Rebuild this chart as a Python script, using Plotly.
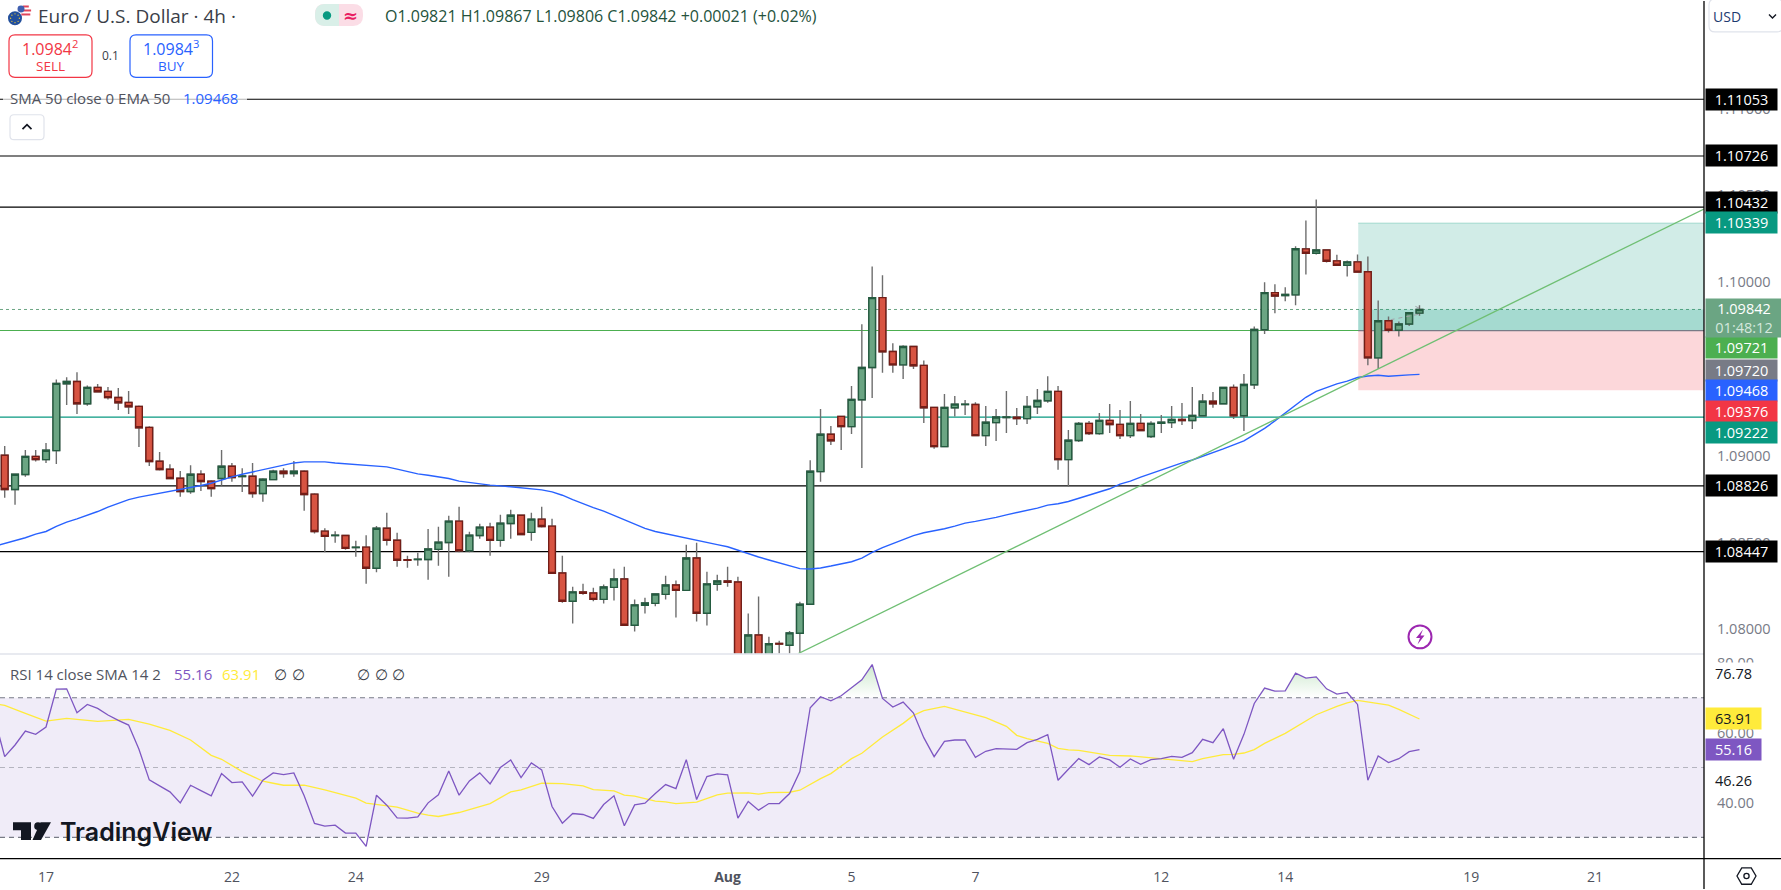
import math
import numpy as np
import plotly.graph_objects as go
from plotly.subplots import make_subplots

W, H = 1781, 890
FONT = "Open Sans"

# 4h candles, one row per 10 bars
opens = [
    1.09002, 1.08805, 1.08891, 1.08996, 1.08977, 1.09029, 1.09414, 1.09427, 1.09299, 1.09393,
    1.09370, 1.09335, 1.09307, 1.09284, 1.09163, 1.08968, 1.08922, 1.08870, 1.08793, 1.08893,
    1.08853, 1.08868, 1.08939, 1.08879, 1.08881, 1.08782, 1.08862, 1.08910, 1.08897, 1.08910,
    1.08778, 1.08565, 1.08540, 1.08540, 1.08471, 1.08473, 1.08351, 1.08582, 1.08513, 1.08400,
    1.08402, 1.08402, 1.08460, 1.08500, 1.08623, 1.08452, 1.08540, 1.08588, 1.08512, 1.08609,
    1.08657, 1.08558, 1.08634, 1.08594, 1.08324, 1.08161, 1.08215, 1.08209, 1.08172, 1.08241,
    1.08289, 1.08023, 1.08138, 1.08149, 1.08201, 1.08255, 1.08224, 1.08410, 1.08092, 1.08259,
    1.08278, 1.08272, 1.07760, 1.07967, 1.07770, 1.07918, 1.07908, 1.07977, 1.08144, 1.08908,
    1.09123, 1.09226, 1.09167, 1.09322, 1.09508, 1.09910, 1.09600, 1.09523, 1.09629, 1.09520,
    1.09278, 1.09052, 1.09276, 1.09294, 1.09295, 1.09115, 1.09190, 1.09219, 1.09221, 1.09213,
    1.09282, 1.09316, 1.09370, 1.08977, 1.09087, 1.09186, 1.09127, 1.09203, 1.09180, 1.09115,
    1.09186, 1.09110, 1.09186, 1.09190, 1.09209, 1.09202, 1.09230, 1.09313, 1.09299, 1.09393,
    1.09230, 1.09408, 1.09725, 1.09939, 1.09922, 1.09926, 1.10191, 1.10166, 1.10185, 1.10122,
    1.10097, 1.10116, 1.10059, 1.09563, 1.09777, 1.09722, 1.09758, 1.09821,
]
highs = [
    1.09056, 1.08893, 1.09033, 1.09033, 1.09073, 1.09439, 1.09452, 1.09481, 1.09404, 1.09412,
    1.09395, 1.09389, 1.09372, 1.09289, 1.09169, 1.09021, 1.08950, 1.08912, 1.08945, 1.08916,
    1.08858, 1.09033, 1.08958, 1.08927, 1.08958, 1.08870, 1.08918, 1.08927, 1.08969, 1.08916,
    1.08784, 1.08582, 1.08565, 1.08542, 1.08510, 1.08542, 1.08594, 1.08671, 1.08556, 1.08423,
    1.08441, 1.08577, 1.08590, 1.08653, 1.08705, 1.08561, 1.08607, 1.08613, 1.08659, 1.08688,
    1.08657, 1.08671, 1.08705, 1.08636, 1.08423, 1.08245, 1.08262, 1.08239, 1.08257, 1.08349,
    1.08360, 1.08171, 1.08182, 1.08203, 1.08308, 1.08280, 1.08487, 1.08498, 1.08331, 1.08314,
    1.08360, 1.08303, 1.08090, 1.08188, 1.07956, 1.07933, 1.07990, 1.08159, 1.08973, 1.09268,
    1.09171, 1.09226, 1.09401, 1.09757, 1.10090, 1.10039, 1.09648, 1.09636, 1.09629, 1.09548,
    1.09278, 1.09355, 1.09343, 1.09320, 1.09307, 1.09286, 1.09269, 1.09372, 1.09274, 1.09343,
    1.09384, 1.09458, 1.09401, 1.09148, 1.09194, 1.09200, 1.09246, 1.09297, 1.09263, 1.09315,
    1.09240, 1.09198, 1.09234, 1.09286, 1.09303, 1.09395, 1.09355, 1.09366, 1.09393, 1.09410,
    1.09470, 1.09744, 1.09999, 1.09987, 1.09970, 1.10206, 1.10354, 1.10475, 1.10185, 1.10157,
    1.10124, 1.10159, 1.10147, 1.09894, 1.09802, 1.09772, 1.09825, 1.09867,
]
lows = [
    1.08757, 1.08717, 1.08879, 1.08966, 1.08958, 1.08952, 1.09291, 1.09240, 1.09288, 1.09368,
    1.09324, 1.09263, 1.09240, 1.09050, 1.08941, 1.08914, 1.08868, 1.08763, 1.08780, 1.08797,
    1.08763, 1.08826, 1.08849, 1.08791, 1.08757, 1.08734, 1.08862, 1.08872, 1.08878, 1.08682,
    1.08552, 1.08443, 1.08498, 1.08458, 1.08418, 1.08262, 1.08328, 1.08483, 1.08360, 1.08354,
    1.08366, 1.08285, 1.08366, 1.08303, 1.08443, 1.08443, 1.08521, 1.08423, 1.08475, 1.08521,
    1.08546, 1.08510, 1.08586, 1.08322, 1.08153, 1.08033, 1.08199, 1.08161, 1.08148, 1.08165,
    1.08023, 1.07987, 1.08090, 1.08132, 1.08171, 1.08067, 1.08224, 1.08044, 1.08021, 1.08222,
    1.08245, 1.07700, 1.07700, 1.07720, 1.07730, 1.07760, 1.07800, 1.07864, 1.08144, 1.08849,
    1.09061, 1.09033, 1.09125, 1.08929, 1.09332, 1.09477, 1.09477, 1.09441, 1.09499, 1.09188,
    1.09039, 1.09052, 1.09226, 1.09234, 1.09115, 1.09056, 1.09085, 1.09131, 1.09177, 1.09182,
    1.09240, 1.09305, 1.08918, 1.08822, 1.09079, 1.09119, 1.09121, 1.09131, 1.09096, 1.09102,
    1.09144, 1.09102, 1.09131, 1.09159, 1.09177, 1.09154, 1.09230, 1.09276, 1.09299, 1.09211,
    1.09142, 1.09384, 1.09700, 1.09820, 1.09889, 1.09866, 1.10044, 1.10159, 1.10113, 1.10097,
    1.10032, 1.10057, 1.09521, 1.09501, 1.09710, 1.09687, 1.09747, 1.09806,
]
closes = [
    1.08805, 1.08893, 1.08996, 1.08977, 1.09031, 1.09416, 1.09427, 1.09299, 1.09393, 1.09368,
    1.09334, 1.09305, 1.09282, 1.09161, 1.08966, 1.08920, 1.08868, 1.08793, 1.08893, 1.08851,
    1.08810, 1.08939, 1.08874, 1.08883, 1.08782, 1.08864, 1.08910, 1.08897, 1.08910, 1.08776,
    1.08563, 1.08535, 1.08542, 1.08466, 1.08473, 1.08351, 1.08582, 1.08512, 1.08397, 1.08397,
    1.08404, 1.08462, 1.08502, 1.08623, 1.08452, 1.08542, 1.08588, 1.08512, 1.08611, 1.08657,
    1.08546, 1.08634, 1.08592, 1.08322, 1.08161, 1.08215, 1.08207, 1.08172, 1.08243, 1.08289,
    1.08023, 1.08140, 1.08151, 1.08203, 1.08255, 1.08224, 1.08410, 1.08092, 1.08261, 1.08278,
    1.08270, 1.07750, 1.07967, 1.07770, 1.07916, 1.07914, 1.07979, 1.08144, 1.08910, 1.09123,
    1.09086, 1.09167, 1.09324, 1.09508, 1.09910, 1.09598, 1.09523, 1.09629, 1.09518, 1.09276,
    1.09052, 1.09278, 1.09297, 1.09297, 1.09115, 1.09192, 1.09223, 1.09223, 1.09213, 1.09284,
    1.09318, 1.09370, 1.08977, 1.09089, 1.09186, 1.09127, 1.09203, 1.09179, 1.09115, 1.09186,
    1.09144, 1.09186, 1.09192, 1.09209, 1.09202, 1.09232, 1.09313, 1.09299, 1.09393, 1.09230,
    1.09410, 1.09727, 1.09939, 1.09920, 1.09928, 1.10192, 1.10166, 1.10185, 1.10120, 1.10097,
    1.10116, 1.10057, 1.09563, 1.09777, 1.09722, 1.09758, 1.09823, 1.09842,
]

# EMA 50, starts one bar left of the pane
ema_vals = [
    1.08477, 1.08494, 1.08508, 1.08527, 1.08548, 1.08563, 1.08592, 1.08617, 1.08636, 1.08655, 1.08678,
    1.08703, 1.08726, 1.08747, 1.08761, 1.08772, 1.08784, 1.08793, 1.08803, 1.08814, 1.08828,
    1.08841, 1.08860, 1.08878, 1.08893, 1.08906, 1.08918, 1.08929, 1.08943, 1.08958, 1.08964,
    1.08966, 1.08964, 1.08958, 1.08954, 1.08950, 1.08943, 1.08941, 1.08935, 1.08922, 1.08908,
    1.08895, 1.08887, 1.08879, 1.08868, 1.08853, 1.08845, 1.08837, 1.08830, 1.08826, 1.08820,
    1.08814, 1.08809, 1.08803, 1.08791, 1.08772, 1.08747, 1.08722, 1.08701, 1.08680, 1.08655,
    1.08627, 1.08604, 1.08581, 1.08563, 1.08550, 1.08535, 1.08523, 1.08510, 1.08498, 1.08487,
    1.08475, 1.08454, 1.08433, 1.08416, 1.08399, 1.08383, 1.08366, 1.08349, 1.08347, 1.08353,
    1.08364, 1.08376, 1.08389, 1.08410, 1.08443, 1.08470, 1.08493, 1.08516, 1.08539, 1.08556,
    1.08567, 1.08579, 1.08594, 1.08611, 1.08621, 1.08631, 1.08644, 1.08659, 1.08671, 1.08682,
    1.08698, 1.08715, 1.08723, 1.08736, 1.08755, 1.08774, 1.08790, 1.08809, 1.08836, 1.08853,
    1.08876, 1.08897, 1.08918, 1.08937, 1.08958, 1.08975, 1.08995, 1.09016, 1.09039, 1.09062,
    1.09085, 1.09121, 1.09157, 1.09200, 1.09244, 1.09288, 1.09336, 1.09370, 1.09393, 1.09413,
    1.09429, 1.09450, 1.09459, 1.09463, 1.09457, 1.09463, 1.09465, 1.09468,
]

# RSI 14, also one bar earlier
rsi_vals = [
    64.30, 53.13, 56.47, 60.47, 59.51, 61.61, 72.47, 72.56, 65.70, 68.09, 66.94,
    65.04, 63.51, 62.18, 55.23, 46.47, 44.75, 43.04, 39.90, 44.94, 43.42,
    41.90, 48.28, 45.70, 45.90, 41.80, 46.37, 48.47, 47.99, 48.47, 41.90,
    33.99, 33.23, 33.51, 31.23, 31.23, 27.42, 42.09, 39.23, 35.61, 35.51,
    35.90, 39.90, 42.18, 49.04, 42.09, 46.18, 48.47, 45.32, 50.00, 52.18,
    47.13, 51.32, 49.32, 38.85, 34.09, 36.85, 36.56, 35.42, 39.42, 41.90,
    33.32, 39.32, 39.80, 42.56, 45.13, 43.99, 52.28, 40.85, 47.42, 48.18,
    47.90, 35.51, 40.28, 37.80, 39.70, 39.70, 42.56, 48.85, 67.13, 70.28,
    69.13, 70.56, 72.94, 75.13, 79.51, 69.80, 67.32, 68.75, 65.61, 58.56,
    53.13, 57.51, 57.89, 57.89, 52.94, 54.66, 55.42, 55.42, 55.23, 57.13,
    58.09, 59.42, 46.37, 49.51, 52.56, 50.85, 53.04, 52.18, 50.09, 52.47,
    50.94, 52.28, 52.56, 53.23, 52.94, 54.28, 58.08, 57.13, 61.13, 52.36,
    59.51, 68.36, 72.75, 71.89, 71.98, 77.03, 75.60, 75.98, 72.55, 71.03,
    71.51, 68.08, 46.36, 53.32, 51.41, 52.55, 54.55, 55.16,
]

rsi_ma_idx = [
    -1, 0, 2, 4, 6, 9, 12, 14, 16, 18, 20, 21, 23, 25, 26, 27, 29, 31, 34, 35, 38, 40, 41, 42, 44, 46, 47,
    49, 50, 52, 54, 56, 57, 59, 60, 61, 63, 64, 65, 67, 69, 70, 72, 73, 74, 76, 77, 79, 80, 82, 83, 85,
    87, 88, 89, 91, 93, 95, 97, 98, 99, 101, 102, 103, 104, 105, 107, 109, 110, 112, 113, 114, 115, 116,
    117, 118, 119, 120, 121, 122, 124, 126, 127, 129, 130, 131, 133, 134, 135, 137,
]
rsi_ma_vals = [
    68.28, 67.80, 65.51, 63.32, 64.09, 63.23, 63.80, 62.47, 60.66, 57.90, 53.51, 52.37, 48.85, 46.09, 45.51,
    44.94, 44.94, 43.61, 41.23, 39.80, 38.66, 36.94, 36.37, 35.99, 37.13, 38.85, 39.70,
    43.04, 43.61, 45.51, 45.42, 44.75, 43.70, 43.32, 42.09, 41.80, 40.37, 40.18, 39.70, 40.09, 42.18, 42.66,
    42.75, 42.37, 42.85, 42.94, 43.51, 46.85, 48.28, 52.56, 54.09, 58.75,
    62.66, 64.94, 66.28, 67.51, 65.90, 64.28, 61.80, 59.23, 58.28, 56.94, 55.51, 55.04, 54.94, 54.47, 53.51,
    53.32, 53.04, 52.66, 52.28, 51.90, 51.70, 52.55,
    53.03, 53.70, 53.79, 54.17, 55.13, 56.94, 59.79, 63.41, 65.13, 67.51, 68.55, 69.22, 68.27, 67.89, 66.65, 63.91,
]

black_levels = [1.11053, 1.10726, 1.10432, 1.08826, 1.08447]
green_level = 1.09721
teal_level = 1.09222
last_price = 1.09842
pos_start = 131.07
pos_tp, pos_entry, pos_sl = 1.10339, 1.09720, 1.09376
trend_idx = [76.85, 164.55]
trend_vals = [1.07860, 1.10421]
# faint dashed drawings around the last bars
dash_a_idx = [134.2, 136.9]
dash_a_vals = [1.09783, 1.09814]
dash_b_idx = [136.6, 137.1]
dash_b_vals = [1.09860, 1.09846]

price_ticks = [1.08, 1.085, 1.09, 1.095, 1.10, 1.105, 1.11]
rsi_ticks = [40, 60, 80]
date_idx = [4, 22, 34, 52, 70, 82, 94, 112, 124, 142, 154]
date_labels = ["17", "22", "24", "29", "<b>Aug</b>", "5", "7", "12", "14", "19", "21"]

# label y position (px) on the price scale, pushed apart as in the chart
price_labels = [
    ("1.11053", 98.5, "#000000", "#ffffff"),
    ("1.10726", 155, "#000000", "#ffffff"),
    ("1.10432", 201.7, "#000000", "#ffffff"),
    ("1.10339", 222.3, "#089981", "#ffffff"),
    ("1.09721", 347.7, "#4caf50", "#ffffff"),
    ("1.09720", 370, "#787b86", "#ffffff"),
    ("1.09468", 390.7, "#2962ff", "#ffffff"),
    ("1.09376", 411.7, "#f23645", "#ffffff"),
    ("1.09222", 432.7, "#089981", "#ffffff"),
    ("1.08826", 486, "#000000", "#ffffff"),
    ("1.08447", 552, "#000000", "#ffffff"),
    ("76.78", 674.5, "#ffffff", "#131722"),
    ("63.91", 719.6, "#ffeb3b", "#131722"),
    ("55.16", 750.5, "#7e57c2", "#ffffff"),
    ("46.26", 781.5, "#ffffff", "#131722"),
]

idx = list(range(len(opens)))
body_hi = [max(o, c) for o, c in zip(opens, closes)]
body_lo = [min(o, c) for o, c in zip(opens, closes)]
ema_idx = list(range(-1, len(opens)))
rsi_idx = list(range(-1, len(opens)))


def fx(x):
    return x / W


def fy(y):
    return 1 - y / H


fig = make_subplots(rows=2, cols=1, shared_xaxes=True, vertical_spacing=0.001)

fig.add_trace(go.Scatter(x=dash_a_idx, y=dash_a_vals, mode="lines", line=dict(color="#a0a0a6", width=1, dash="4px,4px"),
                         showlegend=False), row=1, col=1)
fig.add_trace(go.Scatter(x=dash_b_idx, y=dash_b_vals, mode="lines", line=dict(color="#a0a0a6", width=1, dash="4px,2px"),
                         showlegend=False), row=1, col=1)

# wicks first, bodies on top, so wick and border can have different colours
fig.add_trace(go.Candlestick(x=idx, open=opens, high=highs, low=lows, close=closes, whiskerwidth=0,
                             increasing=dict(line=dict(color="#6e6e6e", width=1.4), fillcolor="#6e6e6e"),
                             decreasing=dict(line=dict(color="#6e6e6e", width=1.4), fillcolor="#6e6e6e"),
                             showlegend=False), row=1, col=1)
fig.add_trace(go.Candlestick(x=idx, open=opens, high=body_hi, low=body_lo, close=closes, whiskerwidth=0,
                             increasing=dict(line=dict(color="#245b40", width=1.4), fillcolor="#6ba583"),
                             decreasing=dict(line=dict(color="#731d17", width=1.4), fillcolor="#d75442"),
                             showlegend=False), row=1, col=1)
fig.add_trace(go.Scatter(x=ema_idx, y=ema_vals, mode="lines", line=dict(color="#2962ff", width=1.4),
                         showlegend=False), row=1, col=1)
fig.add_trace(go.Scatter(x=trend_idx, y=trend_vals, mode="lines", line=dict(color="#6fbf73", width=1.3),
                         showlegend=False), row=1, col=1)

# overbought shading
fig.add_trace(go.Scatter(x=rsi_idx, y=[70] * len(rsi_idx), mode="lines", line=dict(width=0),
                         showlegend=False), row=2, col=1)
fig.add_trace(go.Scatter(x=rsi_idx, y=np.maximum(rsi_vals, 70), mode="lines", line=dict(width=0), fill="tonexty",
                         fillgradient=dict(type="vertical",
                                           colorscale=[[0, "rgba(76,175,80,0)"], [1, "rgba(76,175,80,0.28)"]]),
                         showlegend=False), row=2, col=1)
fig.add_trace(go.Scatter(x=rsi_ma_idx, y=rsi_ma_vals, mode="lines", line=dict(color="#ffeb3b", width=1.3),
                         showlegend=False), row=2, col=1)
fig.add_trace(go.Scatter(x=rsi_idx, y=rsi_vals, mode="lines", line=dict(color="#7e57c2", width=1.3),
                         showlegend=False), row=2, col=1)

shapes = []


def hline(level, color, width=1.2, dash="solid"):
    shapes.append(dict(type="line", xref="x domain", yref="y", x0=0, x1=1, y0=level, y1=level,
                       line=dict(color=color, width=width, dash=dash), layer="below"))


def rect_y(y0, y1, fill):
    shapes.append(dict(type="rect", xref="x", yref="y", x0=pos_start, x1=164.55, y0=y0, y1=y1,
                       fillcolor=fill, line=dict(width=0), layer="below"))


rect_y(pos_entry, pos_tp, "rgba(8,153,129,0.19)")
rect_y(pos_sl, pos_entry, "rgba(242,54,69,0.2)")
rect_y(pos_entry, last_price, "rgba(8,153,129,0.22)")
shapes.append(dict(type="line", xref="x", yref="y", x0=pos_start, x1=164.55, y0=pos_tp, y1=pos_tp,
                   line=dict(color="#a0d8cc", width=1), layer="below"))
for lvl in black_levels:
    hline(lvl, "#000000")
hline(green_level, "#4caf50", 1.2)
hline(teal_level, "#089981", 1.2)
hline(last_price, "#6ba583", 1, "dot")
shapes.append(dict(type="line", xref="x", yref="y", x0=pos_start, x1=164.55, y0=pos_entry, y1=pos_entry,
                   line=dict(color="#787b86", width=1.2), layer="below"))

# rsi band
shapes.append(dict(type="rect", xref="x2 domain", yref="y2", x0=0, x1=1, y0=30, y1=70,
                   fillcolor="rgba(126,87,194,0.115)", line=dict(width=0), layer="below"))
for lvl, col in [(70, "#787b86"), (50, "rgba(120,123,134,0.5)"), (30, "#787b86")]:
    shapes.append(dict(type="line", xref="x2 domain", yref="y2", x0=0, x1=1, y0=lvl, y1=lvl,
                       line=dict(color=col, width=1.1, dash="5px,4px"), layer="below"))


def box(x0, y0, x1, y1, fill=None, line=None, lw=1, opacity=None, r=0):
    s = dict(type="path" if r else "rect", xref="paper", yref="paper", fillcolor=fill or "rgba(0,0,0,0)",
             line=dict(color=line or "rgba(0,0,0,0)", width=lw if line else 0))
    if r:
        s["path"] = (f"M{fx(x0 + r)},{fy(y0)} L{fx(x1 - r)},{fy(y0)} Q{fx(x1)},{fy(y0)} {fx(x1)},{fy(y0 + r)} "
                     f"L{fx(x1)},{fy(y1 - r)} Q{fx(x1)},{fy(y1)} {fx(x1 - r)},{fy(y1)} "
                     f"L{fx(x0 + r)},{fy(y1)} Q{fx(x0)},{fy(y1)} {fx(x0)},{fy(y1 - r)} "
                     f"L{fx(x0)},{fy(y0 + r)} Q{fx(x0)},{fy(y0)} {fx(x0 + r)},{fy(y0)} Z")
    else:
        s.update(x0=fx(x0), x1=fx(x1), y0=fy(y0), y1=fy(y1))
    if opacity is not None:
        s["opacity"] = opacity
    shapes.append(s)


def circle(cx, cy, r, fill=None, line=None, lw=1):
    shapes.append(dict(type="circle", xref="paper", yref="paper", x0=fx(cx - r), x1=fx(cx + r),
                       y0=fy(cy - r), y1=fy(cy + r), fillcolor=fill or "rgba(0,0,0,0)",
                       line=dict(color=line or "rgba(0,0,0,0)", width=lw if line else 0)))


def poly(pts, fill=None, line=None, lw=1.5, closed=True):
    path = "M" + " L".join(f"{fx(x)},{fy(y)}" for x, y in pts) + (" Z" if closed else "")
    shapes.append(dict(type="path", xref="paper", yref="paper", path=path, fillcolor=fill or "rgba(0,0,0,0)",
                       line=dict(color=line or "rgba(0,0,0,0)", width=lw if line else 0)))


# frame
shapes.append(dict(type="line", xref="paper", yref="paper", x0=fx(0), x1=fx(1704), y0=fy(654.5), y1=fy(654.5),
                   line=dict(color="#e0e3eb", width=1.5)))
shapes.append(dict(type="line", xref="paper", yref="paper", x0=fx(1704), x1=fx(1704), y0=0, y1=1,
                   line=dict(color="#000000", width=1.3)))
shapes.append(dict(type="line", xref="paper", yref="paper", x0=0, x1=1, y0=fy(859.5), y1=fy(859.5),
                   line=dict(color="#000000", width=1.3)))

# legend veil over the top line
box(3, 86, 247, 109, fill="#ffffff", opacity=0.7)

# flag icon
circle(24.3, 10, 7, fill="#ffffff")
for yy, half in [(5.5, 4.5), (9.5, 6.8), (13.5, 6)]:
    box(24.3 - half + 3, yy - 1, 24.3 + half, yy + 1, fill="#e0455a")
circle(21, 8, 3.5, fill="#3f5fb0")
circle(15, 17.3, 7, fill="#224f9c")
for k in range(8):
    a = k * math.pi / 4
    circle(15 + 4.4 * math.cos(a), 17.3 + 4.4 * math.sin(a), 0.7, fill="#e8c53a")

# market status pill
box(315, 3, 363, 25, fill="#fbdde6", r=10)
shapes.append(dict(type="path", xref="paper", yref="paper", fillcolor="#d9efe8", line=dict(width=0),
                   path=f"M{fx(339)},{fy(3)} L{fx(325)},{fy(3)} Q{fx(315)},{fy(3)} {fx(315)},{fy(14)} "
                        f"Q{fx(315)},{fy(25)} {fx(325)},{fy(25)} L{fx(339)},{fy(25)} Z"))
circle(327, 14.5, 4.2, fill="#089981")

# sell / buy, collapse button, currency box
box(9, 34, 92, 76.5, fill="#ffffff", line="#f23645", lw=1.2, r=6)
box(130, 34, 212.5, 76.5, fill="#ffffff", line="#2962ff", lw=1.2, r=6)
box(10, 114, 44, 139, fill="#ffffff", line="#e0e3eb", lw=1.2, r=4)
poly([(22.5, 128.5), (27, 124), (31.5, 128.5)], line="#131722", lw=1.7, closed=False)
box(1709, -2, 1783, 31, fill="#ffffff", line="#e0e3eb", lw=1.2, r=6)
poly([(1769, 13.5), (1772.5, 17), (1776, 13.5)], line="#131722", lw=1.4, closed=False)

# lightning badge
circle(1420, 637.3, 11.5, fill="#ffffff", line="#9c27b0", lw=2)
poly([(1423, 630), (1416, 638.5), (1420, 638.5), (1417.5, 645), (1424.5, 636), (1420.5, 636)], fill="#9c27b0")

# logo
poly([(13, 823), (31, 823), (31, 841), (21, 841), (21, 831), (13, 831)], fill="#131722")
circle(38, 827, 3.8, fill="#131722")
poly([(40.5, 823), (51, 823), (41, 841), (32.5, 841)], fill="#131722")

# settings hexagon
poly([(1746.5 + 9.5 * math.cos(k * math.pi / 3), 877 + 9.5 * math.sin(k * math.pi / 3)) for k in range(6)],
     line="#131722", lw=1.3)
circle(1746.5, 877, 2.6, line="#131722", lw=1.3)

notes = []


def text(x, y, s, size=14, color="#131722", anchor="left", family=FONT, weight=None):
    font = dict(family=family, size=size, color=color)
    if weight:
        font["weight"] = weight
    notes.append(dict(xref="paper", yref="paper", x=fx(x), y=fy(y), text=s, showarrow=False,
                      xanchor=anchor, yanchor="middle", font=font, borderpad=0))


text(37, 15.5, "Euro / U.S. Dollar · 4h ·", 19, "#3a3e48")
text(383.5, 15.5, "O1.09821 H1.09867 L1.09806 C1.09842 +0.00021 (+0.02%)", 16, "#24523c")
text(350, 14.5, "≈", 18, "#e91e63", "center", "DejaVu Sans", 700)
text(50, 47, "1.0984<sup>2</sup>", 16, "#f23645", "center")
text(50, 65, "SELL", 13.5, "#f23645", "center")
text(110, 55, "0.1", 12, "#3a3e48", "center")
text(171, 47, "1.0984<sup>3</sup>", 16, "#2962ff", "center")
text(171, 65, "BUY", 13.5, "#2962ff", "center")
text(9, 97, "SMA 50 close 0 EMA 50", 15, "#50535e")
text(182, 97, "1.09468", 15, "#2962ff")
text(1727, 15.5, "USD", 14, "#1c3a70", "center")
text(9, 675, "RSI 14 close SMA 14 2", 15, "#50535e")
text(173, 675, "55.16", 15, "#7e57c2")
text(221, 675, "63.91", 15, "#ffeb3b")
for nx in [273, 291, 356, 373.5, 391]:
    text(nx, 675, "∅", 15, "#3a3e48")
text(59, 832.5, "TradingView", 25, "#131722", family="Inter", weight=600)

for s, py, bg, fg in price_labels:
    notes.append(dict(xref="paper", yref="paper", x=fx(1704.5), y=fy(py), xanchor="left", yanchor="middle",
                      text=s, showarrow=False, width=71 if len(s) == 7 else 55, height=21,
                      bgcolor=bg, borderpad=0, font=dict(family=FONT, size=14.5, color=fg)))
notes.append(dict(xref="paper", yref="paper", x=fx(1704.5), y=fy(318), xanchor="left", yanchor="middle",
                  text='1.09842<br><span style="color:#d5e8dd">01:48:12</span>', showarrow=False,
                  width=76, height=38, bgcolor="#6ba583", borderpad=0,
                  font=dict(family=FONT, size=14.5, color="#ffffff")))

px_right = 1704 / W
axis_x = dict(range=[-0.455, 164.55], domain=[0, px_right], showgrid=False, zeroline=False, showline=False)
fig.update_layout(
    width=W, height=H, margin=dict(l=0, r=0, t=0, b=0),
    paper_bgcolor="#ffffff", plot_bgcolor="#ffffff", showlegend=False,
    boxgap=0.35, boxgroupgap=0,
    shapes=shapes, annotations=notes,
    font=dict(family=FONT),
    xaxis=dict(**axis_x, showticklabels=False, ticks="", rangeslider=dict(visible=False)),
    xaxis2=dict(**axis_x, tickmode="array", tickvals=date_idx, ticktext=date_labels, ticks="",
                ticklabelstandoff=8, tickfont=dict(family=FONT, size=14, color="#50535e"),
                rangeslider=dict(visible=False)),
    yaxis=dict(domain=[fy(654), 1], range=[1.07860, 1.11619], side="right", showgrid=False, zeroline=False,
               tickmode="array", tickvals=price_ticks, ticktext=[f"{v:.5f}" for v in price_ticks], ticks="",
               ticklabelstandoff=12, tickfont=dict(family=FONT, size=14.5, color="#787b86")),
    yaxis2=dict(domain=[fy(859.5), fy(655.5)], range=[23.94, 82.23], side="right", showgrid=False, zeroline=False,
                tickmode="array", tickvals=rsi_ticks, ticktext=[f"{v:.2f}" for v in rsi_ticks], ticks="",
                ticklabelstandoff=12, tickfont=dict(family=FONT, size=14.5, color="#787b86")),
)

# page offset: the plot sits a little low in the window otherwise
fig.write_html("out.html", config={"displayModeBar": False},
               post_script="document.body.style.margin='0';document.body.style.overflow='hidden';"
                           "document.getElementsByClassName('plotly-graph-div')[0].style.marginTop='-1.5px';")
